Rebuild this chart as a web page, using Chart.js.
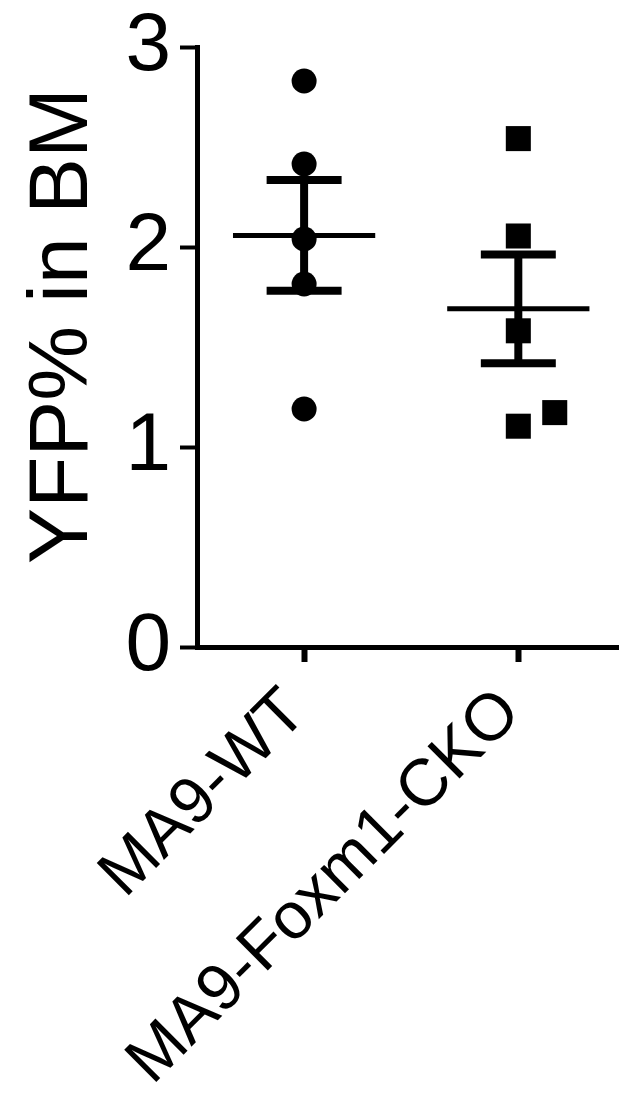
<!DOCTYPE html>
<html>
<head>
<meta charset="utf-8">
<script src="https://cdn.jsdelivr.net/npm/chart.js@4/dist/chart.umd.min.js"></script>
<style>
  html, body { margin: 0; padding: 0; background: #fff; }
  canvas { display: block; }
</style>
</head>
<body>
<canvas id="chart" width="619" height="1094"></canvas>
<script>
// values
const categories = ['MA9-WT', 'MA9-Foxm1-CKO'];
const wtValues = [2.83, 2.415, 2.04, 1.815, 1.19];
const ckoValues = [2.542, 2.055, 1.581, 1.104, 1.172];
const ckoJitter = [0, 0, 0, 0, 0.17];
const wtJitter = [0, 0, 0, 0, 0];
const yTicks = [0, 1, 2, 3];
const yTitleText = 'YFP% in BM';

const FONT = 'Arial, "Liberation Sans", sans-serif';

function mean(a){ return a.reduce((s,v)=>s+v,0)/a.length; }
function sem(a){
  const m = mean(a);
  const sd = Math.sqrt(a.reduce((s,v)=>s+(v-m)*(v-m),0)/(a.length-1));
  return sd/Math.sqrt(a.length);
}

function seg(x1, y1, x2, y2, w){
  return { type:'scatter', showLine:true, data:[{x:x1,y:y1},{x:x2,y:y2}],
    borderColor:'#000', borderWidth:w, borderCapStyle:'butt', pointRadius:0, pointHoverRadius:0 };
}

function errorBars(x, vals){
  const m = mean(vals), e = sem(vals);
  return [
    seg(x-0.332, m, x+0.332, m, 5),        // mean
    seg(x, m-e, x, m+e, 8),                // whisker
    seg(x-0.175, m+e, x+0.175, m+e, 8),    // caps
    seg(x-0.175, m-e, x+0.175, m-e, 8)
  ];
}

const datasets = [
  ...errorBars(1, wtValues),
  ...errorBars(2, ckoValues),
  { type:'scatter', data: wtValues.map((v,i)=>({x:1+wtJitter[i], y:v})),
    pointStyle:'circle', pointRadius:12.5, backgroundColor:'#000', borderWidth:0 },
  { type:'scatter', data: ckoValues.map((v,i)=>({x:2+ckoJitter[i], y:v})),
    pointStyle:'rect', pointRadius:17.7, backgroundColor:'#000', borderWidth:0 }
];

const yTitle = {
  id:'yTitle',
  afterDraw(chart){
    const {ctx, chartArea} = chart;
    ctx.save();
    ctx.translate(87, (chartArea.top+chartArea.bottom)/2 - 21);
    ctx.rotate(-Math.PI/2);
    ctx.font = '84px ' + FONT;
    ctx.fillStyle = '#000';
    ctx.textAlign = 'center';
    ctx.textBaseline = 'alphabetic';
    ctx.fillText(yTitleText, 0, 0);
    ctx.restore();
  }
};

new Chart(document.getElementById('chart'), {
  type:'scatter',
  data:{ datasets },
  plugins:[yTitle],
  options:{
    responsive:false,
    animation:false,
    layout:{ autoPadding:false, padding:{ top:47, left:0, right:0, bottom:0 } },
    plugins:{ legend:{display:false}, tooltip:{enabled:false} },
    scales:{
      x:{
        type:'linear', min:0.5, max:2.47,
        afterBuildTicks: s => { s.ticks = categories.map((c,i)=>({value:i+1})); },
        afterFit: s => { s.height = 447; s.paddingLeft = 0; s.paddingRight = 0; },
        grid:{ drawOnChartArea:false, tickLength:15, tickWidth:6, tickColor:'#000' },
        border:{ display:true, width:5, color:'#000' },
        ticks:{
          autoSkip:false, minRotation:45, maxRotation:45,
          padding:12, labelOffset:-8,
          color:'#000', font:{ family:FONT, size:66 },
          callback: v => categories[v-1]
        }
      },
      y:{
        min:0, max:3,
        afterBuildTicks: s => { s.ticks = yTicks.map(v=>({value:v})); },
        afterFit: s => { s.width = 197; s.paddingTop = 0; s.paddingBottom = 0; },
        grid:{ drawOnChartArea:false, tickLength:17, tickWidth:4, tickColor:'#000' },
        border:{ display:true, width:5, color:'#000' },
        ticks:{ padding:9, color:'#000', font:{ family:FONT, size:82 } }
      }
    }
  }
});
</script>
</body>
</html>
